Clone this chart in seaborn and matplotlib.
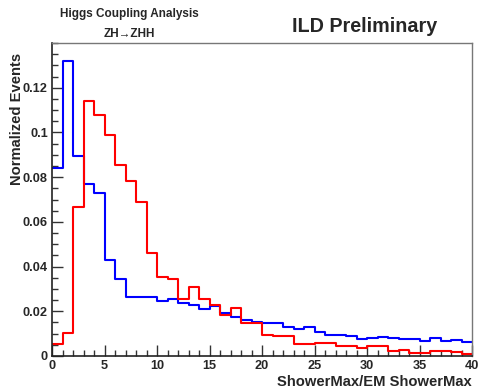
"""
ShowerMax / EM ShowerMax, normalized, signal vs background (ILD style).
"""

import numpy as np
import pandas as pd
import matplotlib
matplotlib.use("Agg")
import matplotlib.pyplot as plt
import seaborn as sns
from matplotlib.ticker import MultipleLocator

# ── data: 40 unit bins from 0 to 40 ───────────────────────────
bin_edges = list(range(0, 41))
blue_vals = [0.084, 0.132, 0.0895, 0.077, 0.073, 0.0429, 0.0344, 0.0265, 0.0265, 0.0262,
             0.0247, 0.0255, 0.0235, 0.0227, 0.0212, 0.0223, 0.0194, 0.0176, 0.0161, 0.0151,
             0.0146, 0.0146, 0.0131, 0.0122, 0.0128, 0.0106, 0.0095, 0.0095, 0.0091, 0.0077,
             0.0080, 0.0083, 0.0080, 0.0075, 0.0075, 0.0067, 0.0080, 0.0069, 0.0073, 0.0064]
red_vals  = [0.0054, 0.0101, 0.0667, 0.114, 0.1077, 0.0989, 0.0855, 0.0781, 0.0687, 0.0459,
             0.0355, 0.0346, 0.0253, 0.0307, 0.0256, 0.0227, 0.0185, 0.0216, 0.0146, 0.0146,
             0.0096, 0.0090, 0.0090, 0.0052, 0.0052, 0.0057, 0.0060, 0.0046, 0.0046, 0.0037,
             0.0043, 0.0043, 0.0024, 0.0028, 0.0015, 0.0015, 0.0021, 0.0021, 0.0018, 0.0008]
y_ticks   = [0, 0.02, 0.04, 0.06, 0.08, 0.10, 0.12]
y_labels  = ["0", "0.02", "0.04", "0.06", "0.08", "0.1", "0.12"]
x_ticks   = [0, 5, 10, 15, 20, 25, 30, 35, 40]

centers = [e + 0.5 for e in bin_edges[:-1]]
df = pd.DataFrame({"x": centers * 2,
                   "w": blue_vals + red_vals,
                   "sample": ["blue"] * 40 + ["red"] * 40})

sns.set_style("ticks")
plt.rcParams["font.family"] = ["Liberation Sans", "DejaVu Sans"]
plt.rcParams["font.weight"] = "bold"

fig = plt.figure(figsize=(4.79, 3.92), dpi=100)
ax = fig.add_axes([52 / 479, 1 - 356 / 392, 420 / 479, 313 / 392])

for name, col in [("blue", "#0000ff"), ("red", "#ff0000")]:
    sub = df[df["sample"] == name]
    sns.histplot(data=sub, x="x", weights="w", bins=bin_edges, element="step",
                 fill=False, color=col, linewidth=1.5, ax=ax)

ax.set_xlim(0, 40)
ax.set_ylim(0, 0.14)
ax.set_xticks(x_ticks)
ax.set_xticklabels([str(t) for t in x_ticks], fontsize=9.2, fontweight="bold")
ax.set_yticks(y_ticks)
ax.set_yticklabels(y_labels, fontsize=9.2, fontweight="bold")
ax.xaxis.set_minor_locator(MultipleLocator(1))
ax.yaxis.set_minor_locator(MultipleLocator(0.005))
ax.tick_params(which="major", direction="in", length=8, width=1, color="#333333", pad=3)
ax.tick_params(which="minor", direction="in", length=4, width=1, color="#333333")
ax.tick_params(top=False, right=False)

for s in ["left", "bottom"]:
    ax.spines[s].set_color("#222222")
    ax.spines[s].set_linewidth(1.2)
for s in ["top", "right"]:
    ax.spines[s].set_color("#777777")
    ax.spines[s].set_linewidth(1.0)

ax.set_xlabel("")
ax.set_ylabel("")
fig.text(472 / 479, 1 - 382 / 392, "ShowerMax/EM ShowerMax", ha="right", va="center",
         fontsize=10.6, fontweight="bold")
# ROOT-style: the y title sits right next to the tick labels
fig.text(17 / 479, 1 - 53 / 392, "Normalized Events", rotation=90, ha="center", va="top",
         fontsize=10.6, fontweight="bold")

fig.text(129 / 479, 1 - 14 / 392, "Higgs Coupling Analysis", ha="center", va="center",
         fontsize=8.5, fontweight="bold")
fig.text(129 / 479, 1 - 34 / 392, "ZH\u2192ZHH", ha="center", va="center",
         fontsize=8.5, fontweight="bold")
fig.text(365 / 479, 1 - 27 / 392, "ILD Preliminary", ha="center", va="center",
         fontsize=14.2, fontweight="bold")

fig.savefig("out.png", dpi=100, facecolor="white")
